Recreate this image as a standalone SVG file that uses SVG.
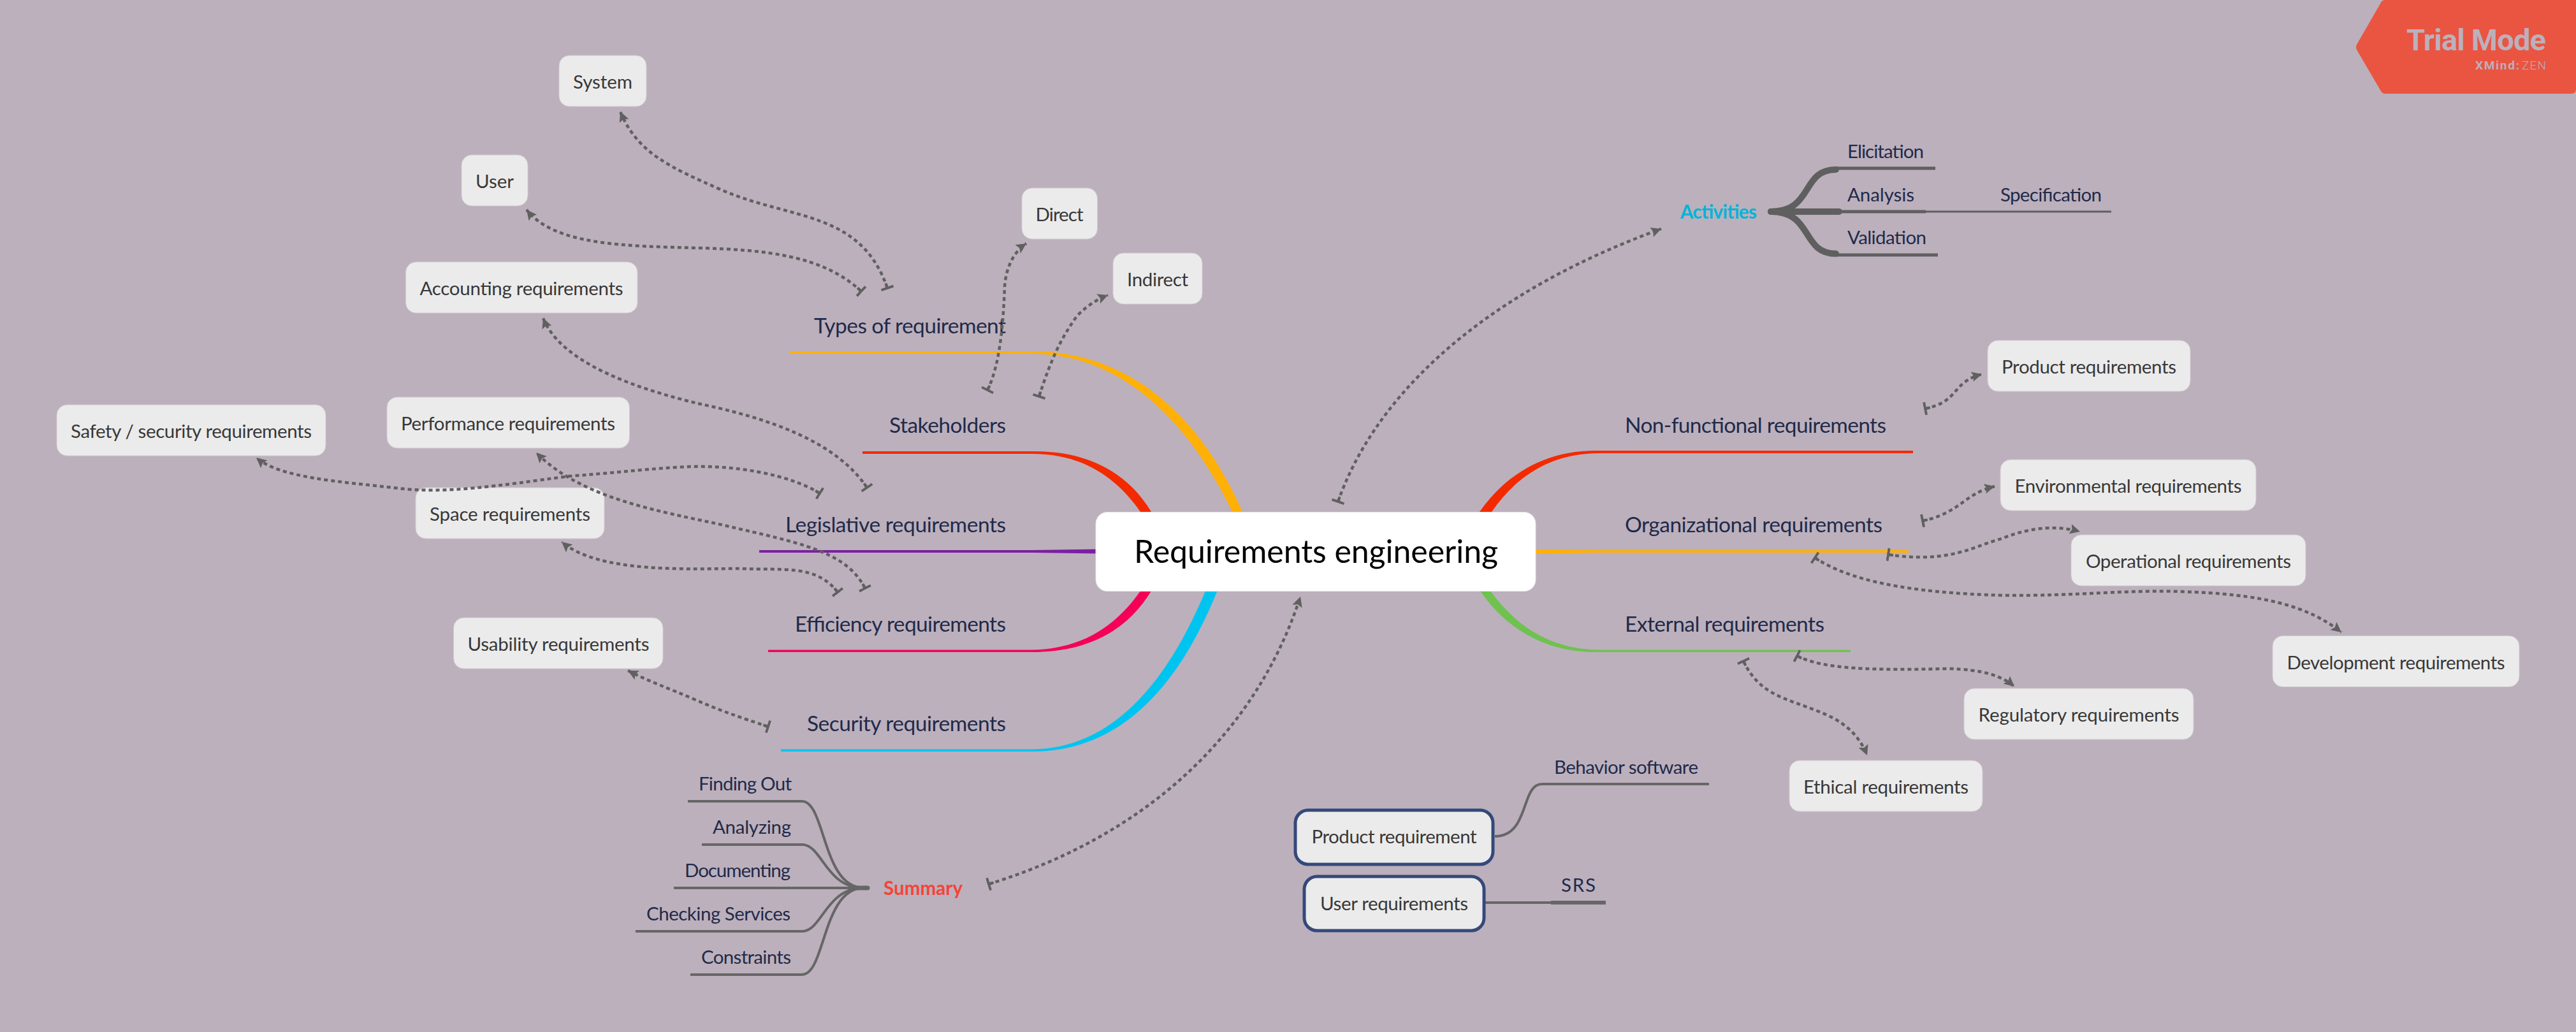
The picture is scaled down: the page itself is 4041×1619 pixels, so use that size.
<svg xmlns="http://www.w3.org/2000/svg" width="4041" height="1619" viewBox="0 0 4041 1619">
<style>
text{font-family:"Lato","Noto Sans",sans-serif}
.n rect{fill:#ebebeb;stroke:#d2c9d2;stroke-width:1}
.n text{font-size:29.500px;fill:#383838;text-anchor:middle}
.b rect{stroke:#34497a;stroke-width:5}
.root rect{fill:#fff;stroke:#e8e4e8}
.root text{font-size:50px;fill:#000;text-anchor:start}
.m{font-size:33.500px;fill:#1f2a4a}
.s{font-size:29.500px;fill:#1f2a4a}
.r{text-anchor:end}
.rel path{fill:none;stroke:#606060;stroke-width:4.500;stroke-dasharray:6 5;marker-start:url(#bar);marker-end:url(#arr)}
.ln path{fill:none;stroke:#666;stroke-width:4}
</style>
<defs>
<marker id="arr" markerUnits="userSpaceOnUse" markerWidth="20" markerHeight="20" refX="16" refY="8" orient="auto"><path d="M0 0L16 8L0 16L3 8Z" fill="#606060"/></marker>
<marker id="bar" markerUnits="userSpaceOnUse" markerWidth="12" markerHeight="22" refX="2" refY="11" orient="auto"><path d="M0 1H4V9H10V13H4V21H0Z" fill="#606060"/></marker>
</defs>
<rect width="4041" height="1619" fill="#bcb0bc"/>
<g id="connectors">
<g id="main-branches">
<path fill="#ffb007" d="M1238 551H1619C1765 551 1880 645 1949 803L1965 835H1948L1933 803C1862 655 1755 555 1619 555H1238Z"/>
<path fill="#f32a00" d="M1353 708H1619C1705 707 1768 740 1806 803L1822 830H1804L1789 803C1752 750 1700 712 1619 712H1353Z"/>
<path fill="#7b1fa2" d="M1191 863H1619L1725 861.500V868.500L1619 867H1191Z"/>
<path fill="#f50057" d="M1205 1019.500H1619C1700 1018 1752 980 1789 927L1804 900H1822L1806 927C1768 990 1705 1023 1619 1023H1205Z"/>
<path fill="#00c4f0" d="M1225 1175.500H1619C1735 1175 1825 1085 1891 927L1903 900H1921L1909.500 927C1842 1095 1745 1179 1619 1179H1225Z"/>
<path fill="#f32a00" d="M3001 707H2509C2430 705 2365 740 2321 803L2305 830H2325L2340 803C2380 745 2435 711 2509 711H3001Z"/>
<path fill="#ffb007" d="M2994 863H2509L2402 861.500V868.500L2509 867H2994Z"/>
<path fill="#6fc24f" d="M2903 1019.500H2509C2435 1019 2380 985 2338 927L2325 900H2305L2322 927C2365 990 2430 1025 2509 1023H2903Z"/>
</g>
<g id="activities-branches" fill="none" stroke="#5f5f5f">
<path stroke-width="10" stroke-linecap="round" d="M2778 332C2845 332 2825 266 2880 266"/>
<path stroke-width="10" stroke-linecap="round" d="M2778 332C2845 332 2825 398 2880 398"/>
<path stroke-width="10" stroke-linecap="round" d="M2778 332H2885"/>
<path stroke-width="5" d="M2880 264H3036M2880 332H3021M2880 400H3040"/>
<path stroke-width="3" d="M3021 332H3312"/>
</g>
<g id="summary-branches" class="ln">
<path d="M1079 1257H1258C1295 1257 1290 1393 1355 1393"/>
<path d="M1101 1325H1258C1290 1325 1295 1393 1355 1393"/>
<path d="M1057 1393H1355"/>
<path d="M997 1461H1258C1290 1461 1295 1393 1355 1393"/>
<path d="M1083 1529H1258C1295 1529 1290 1393 1355 1393"/>
<path stroke-linecap="round" style="stroke-width:7" d="M1340 1393H1361"/>
</g>
<g id="product-branches" class="ln">
<path d="M2345 1312C2400 1312 2385 1230 2419 1230H2681"/>
<path d="M2330 1416H2433"/>
<path style="stroke-width:6" d="M2433 1416H2519"/>
</g>
</g>

<g id="node-root" class="n root"><rect x="1719" y="803.500" width="690" height="124" rx="18"/><text x="1779" y="883" textLength="571">Requirements engineering</text></g>

<g id="label-types"><text class="m r" x="1578" y="523" textLength="301">Types of requirement</text></g>
<g id="label-stakeholders"><text class="m r" x="1578" y="679" textLength="183">Stakeholders</text></g>
<g id="label-legislative"><text class="m r" x="1578" y="835" textLength="346">Legislative requirements</text></g>
<g id="label-efficiency"><text class="m r" x="1578" y="991" textLength="331">Efficiency requirements</text></g>
<g id="label-security"><text class="m r" x="1578" y="1147" textLength="312">Security requirements</text></g>
<g id="label-nonfunctional"><text class="m" x="2549" y="679" textLength="410">Non-functional requirements</text></g>
<g id="label-organizational"><text class="m" x="2549" y="835" textLength="404">Organizational requirements</text></g>
<g id="label-external"><text class="m" x="2549" y="991" textLength="313">External requirements</text></g>

<g id="node-system" class="n"><rect x="877" y="87" width="137" height="80" rx="16"/><text x="945.500" y="139" textLength="93">System</text></g>
<g id="node-user" class="n"><rect x="724" y="243" width="104" height="80" rx="16"/><text x="776" y="295" textLength="60">User</text></g>
<g id="node-accounting" class="n"><rect x="636.500" y="411" width="363.500" height="80" rx="16"/><text x="818" y="463" textLength="319">Accounting requirements</text></g>
<g id="node-safety" class="n"><rect x="89" y="635" width="422" height="80" rx="16"/><text x="300" y="687" textLength="378">Safety / security requirements</text></g>
<g id="node-performance" class="n"><rect x="607" y="623" width="380.500" height="80" rx="16"/><text x="797" y="675" textLength="336">Performance requirements</text></g>
<g id="node-space" class="n"><rect x="652" y="765" width="296" height="80" rx="16"/><text x="800" y="817" textLength="252">Space requirements</text></g>
<g id="node-usability" class="n"><rect x="711.500" y="969" width="328.500" height="80" rx="16"/><text x="876" y="1021" textLength="285">Usability requirements</text></g>
<g id="node-direct" class="n"><rect x="1603" y="295" width="118.500" height="80" rx="16"/><text x="1662" y="347" textLength="75">Direct</text></g>
<g id="node-indirect" class="n"><rect x="1746" y="397" width="140" height="80" rx="16"/><text x="1816" y="449" textLength="96">Indirect</text></g>
<g id="node-product" class="n"><rect x="3118" y="534" width="318" height="80" rx="16"/><text x="3277" y="586" textLength="274">Product requirements</text></g>
<g id="node-environmental" class="n"><rect x="3138" y="721" width="401" height="80" rx="16"/><text x="3338.500" y="773" textLength="356">Environmental requirements</text></g>
<g id="node-operational" class="n"><rect x="3249" y="839" width="368" height="80" rx="16"/><text x="3433" y="891" textLength="322">Operational requirements</text></g>
<g id="node-development" class="n"><rect x="3565" y="997.500" width="387" height="80" rx="16"/><text x="3758.500" y="1049.500" textLength="342">Development requirements</text></g>
<g id="node-regulatory" class="n"><rect x="3081" y="1080" width="360" height="80" rx="16"/><text x="3261" y="1132" textLength="315">Regulatory requirements</text></g>
<g id="node-ethical" class="n"><rect x="2807" y="1193" width="303" height="80" rx="16"/><text x="2958.500" y="1245" textLength="259">Ethical requirements</text></g>
<g id="node-product-requirement" class="n b"><rect x="2032" y="1271" width="310" height="85" rx="20"/><text x="2187" y="1323" textLength="259">Product requirement</text></g>
<g id="node-user-requirements" class="n b"><rect x="2046" y="1375" width="282" height="85" rx="20"/><text x="2187" y="1428" textLength="232">User requirements</text></g>

<g id="label-behavior"><text class="s" x="2438" y="1214" textLength="226">Behavior software</text></g>
<g id="label-srs"><text class="s" x="2449" y="1399" textLength="54">SRS</text></g>
<g id="label-finding"><text class="s r" x="1242" y="1240" textLength="146">Finding Out</text></g>
<g id="label-analyzing"><text class="s r" x="1241" y="1308" textLength="123">Analyzing</text></g>
<g id="label-documenting"><text class="s r" x="1240" y="1376" textLength="166">Documenting</text></g>
<g id="label-checking"><text class="s r" x="1240" y="1444" textLength="226">Checking Services</text></g>
<g id="label-constraints"><text class="s r" x="1241" y="1512" textLength="141">Constraints</text></g>
<g id="node-summary"><text x="1386" y="1404" font-size="29.500" font-weight="700" fill="#f44336" textLength="124">Summary</text></g>
<g id="node-activities"><text x="2636" y="343" font-size="29.500" font-weight="700" fill="#00b4d8" textLength="120">Activities</text></g>
<g id="label-elicitation"><text class="s" x="2898" y="248" textLength="120">Elicitation</text></g>
<g id="label-analysis"><text class="s" x="2898" y="316" textLength="105">Analysis</text></g>
<g id="label-validation"><text class="s" x="2898" y="383" textLength="124">Validation</text></g>
<g id="label-specification"><text class="s" x="3138" y="316" textLength="159">Specification</text></g>

<g id="relationships" class="rel">
<path d="M1392 452C1350 330 1240 345 1132 298C1050 262 1000 240 973 175"/>
<path d="M1351 457C1290 400 1200 392 1095 389C980 386 870 385 826 329"/>
<path d="M1549 612C1570 570 1574 500 1576 450C1578 420 1590 395 1610 382"/>
<path d="M1630 622C1650 560 1665 530 1690 495C1705 480 1720 470 1738 463"/>
<path d="M1360 765C1310 690 1200 655 1095 633C1000 610 880 570 852 499"/>
<path d="M1286 774C1240 745 1150 727 1062 733C1000 737 950 743 893 747C780 762 700 775 625 766C530 755 440 750 402 718"/>
<path d="M1357 923C1330 870 1270 855 1161 830C1060 805 920 790 841 710"/>
<path d="M1314 929C1280 885 1230 895 1161 892C1080 892 940 900 881 850"/>
<path d="M1205 1140C1160 1125 1130 1115 1089 1097C1050 1080 1020 1070 985 1052"/>
<path d="M2099 787C2150 640 2300 470 2606 359"/>
<path d="M1551 1387C1800 1310 1970 1150 2040 936"/>
<path d="M3020 641C3075 630 3060 600 3109 587"/>
<path d="M3016 817C3075 805 3080 775 3129 763"/>
<path d="M2962 870C3060 885 3100 855 3140 845C3190 825 3230 825 3263 834"/>
<path d="M2847 875C2900 910 2990 930 3143 934C3260 935 3340 925 3420 928C3550 932 3620 950 3673 992"/>
<path d="M2819 1029C2860 1050 2940 1052 3054 1049C3110 1050 3140 1060 3160 1077"/>
<path d="M2735 1037C2760 1090 2800 1095 2850 1115C2890 1130 2915 1150 2929 1185"/>
</g>

<g id="trial-badge">
<path fill="#e95541" d="M3742 0H4041V140Q4041 147 4034 147H3742Q3737 147 3735 143L3697 78Q3695 74 3697 70L3735 4Q3737 0 3742 0Z"/>
<text x="3775" y="79" font-size="47" font-weight="700" fill="#bcb0bc" style="font-family:Roboto,sans-serif" textLength="219">Trial Mode</text>
<text x="3883" y="109" font-size="19" font-weight="700" fill="#bcb0bc" style="font-family:Roboto,sans-serif" textLength="69">XMind:</text>
<text x="3956" y="109" font-size="19" font-weight="300" fill="#bcb0bc" style="font-family:Roboto,sans-serif" textLength="38">ZEN</text>
</g>
</svg>
